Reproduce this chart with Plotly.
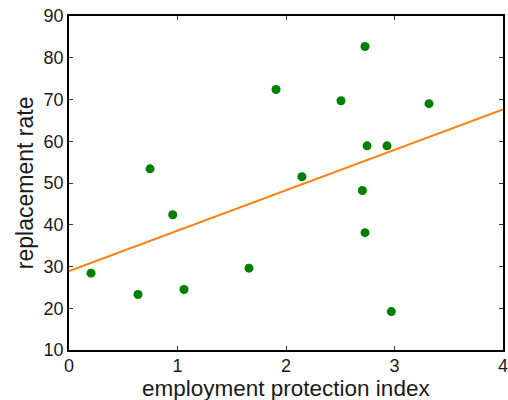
import plotly.graph_objects as go

# Employment protection index vs. unemployment-benefit replacement rate
epl_index = [0.747, 1.908, 2.728, 2.507, 3.318, 2.747, 2.931, 2.147,
             2.704, 0.956, 0.203, 0.636, 1.060, 1.659, 2.728, 2.971]
replacement_rate = [53.4, 72.4, 82.7, 69.7, 69.0, 58.9, 58.9, 51.5,
                    48.2, 42.4, 28.4, 23.3, 24.5, 29.6, 38.1, 19.2]

# Least-squares trend line, evaluated at the ends of the x range
fit_x = [0, 4]
fit_y = [28.9, 67.6]

x_ticks = [0, 1, 2, 3, 4]
y_ticks = [10, 20, 30, 40, 50, 60, 70, 80, 90]

x_title = "employment protection index"
y_title = "replacement rate"

fig = go.Figure()
fig.add_trace(go.Scatter(
    x=epl_index, y=replacement_rate, mode="markers",
    marker=dict(color="#008000", size=9, line=dict(width=0)),
    showlegend=False,
))
fig.add_trace(go.Scatter(
    x=fit_x, y=fit_y, mode="lines",
    line=dict(color="#ff7f0e", width=2),
    showlegend=False,
))

axis_common = dict(
    showline=True, linecolor="black", linewidth=1.5, mirror="ticks",
    ticks="inside", ticklen=4, tickcolor="#333333", tickwidth=1,
    showgrid=False, zeroline=False, automargin=False,
    ticklabeloverflow="allow",
    tickfont=dict(size=18, color="#1a1a1a"),
)

fig.update_xaxes(range=[0, 4], tickvals=x_ticks, ticklabelstandoff=-1, **axis_common)
fig.update_yaxes(range=[10, 90], tickvals=y_ticks, **axis_common)

title_font = dict(size=22.5, color="#1a1a1a")
# axis titles placed as paper-anchored annotations just outside the tick labels
fig.add_annotation(
    text=x_title, xref="paper", yref="paper", x=0.5, y=-0.0719,
    xanchor="center", yanchor="top", showarrow=False, font=title_font,
)
fig.add_annotation(
    text=y_title, xref="paper", yref="paper", x=-0.101, y=0.5,
    xanchor="center", yanchor="middle", textangle=-90, showarrow=False,
    font=dict(size=23, color="#1a1a1a"),
)

fig.update_layout(
    width=508, height=400,
    margin=dict(l=69, r=5, t=16, b=50),
    paper_bgcolor="white", plot_bgcolor="white",
    font=dict(family="Liberation Sans, Arial, sans-serif"),
)

fig.write_html("out.html")
